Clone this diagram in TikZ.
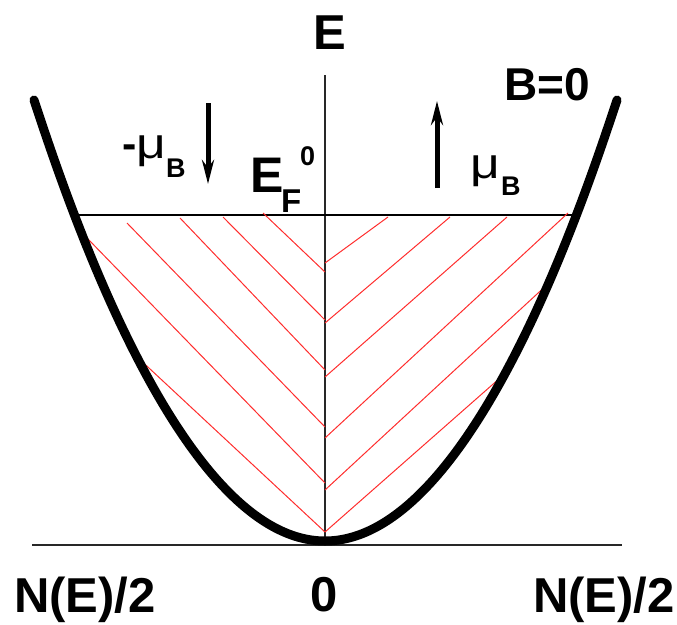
\documentclass[tikz,border=0pt]{standalone}
\usepackage{fontspec}
\setmainfont{Liberation Sans}
\usetikzlibrary{arrows.meta}
\definecolor{HatchRed}{RGB}{255,45,45}
\definecolor{AxisGray}{RGB}{40,40,40}

\begin{document}
\begin{tikzpicture}[x=1pt,y=-1pt,
        axis/.style={draw=AxisGray,line width=1.6pt},
        fermi/.style={draw=black,line width=2.4pt},
        band/.style={draw=black,line width=9pt,line cap=round},
        hatch/.style={draw=HatchRed,line width=1pt},
        spin/.style={-{Stealth[length=24pt,width=12pt]},line width=5pt},
        big/.style={inner sep=0pt,font=\bfseries\fontsize{49}{49}\selectfont},
        small/.style={inner sep=0pt,font=\bfseries\fontsize{27}{27}\selectfont},
        greek/.style={inner sep=0pt,font=\fontsize{43}{43}\selectfont}
      ]
        \useasboundingbox (0,0) rectangle (677,624);
        % axes
        \coordinate (etop) at (325,75);
        \coordinate (orig) at (325,545);
        \coordinate (nl) at (32,545);
        \coordinate (nr) at (622,545);
        \draw[axis] (etop) -- (orig);
        \draw[axis] (nl) -- (nr);
        % Fermi level
        \coordinate (efl) at (76,215);
        \coordinate (efr) at (580,215);
        \draw[fermi] (efl) -- (efr);
        % hatching, spin down (left) and spin up (right)
        \foreach \sx/\sy/\ey in {263/213/272, 223/217/320, 180/218/370,
                                 127/223/427, 87/238/483, 135/355/532}
          \draw[hatch] (\sx,\sy) -- (325,\ey);
        \foreach \sy/\ex/\ey in {263/388/217, 323/450/217, 377/507/217,
                                 438/568/213, 490/550/282, 532/500/378}
          \draw[hatch] (325,\sy) -- (\ex,\ey);
        % band
        \coordinate (ltop) at (34,100);
        \coordinate (rtop) at (617,100);
        \coordinate (vtx) at (325,541);
        \draw[band] (ltop) parabola bend (vtx) (rtop);
        % spin arrows
        \coordinate (dntail) at (208,103);
        \coordinate (dntip) at (208,184);
        \coordinate (uptail) at (437,188);
        \coordinate (uptip) at (437,101);
        \draw[spin] (dntail) -- (dntip);
        \draw[spin] (uptail) -- (uptip);
        % labels
        \node[big,anchor=base] (elab) at (330,49) {E};
        \node[big,font=\bfseries\fontsize{46}{46}\selectfont,anchor=base west] (bzero) at (504,100) {B=0};
        \node[big,anchor=base west] (nleft) at (14,612) {N(E)/2};
        \node[big,anchor=base] (zero) at (324,611) {0};
        \node[big,anchor=base east] (nright) at (675,612) {N(E)/2};
        \node[big,font=\bfseries\fontsize{50}{50}\selectfont,anchor=base west] (ef) at (250,192) {E};
        \node[small,font=\bfseries\fontsize{33}{33}\selectfont,anchor=base west] (efsub) at (281,212) {F};
        \node[small,anchor=base west] (efsup) at (300,165) {0};
        \node[greek,anchor=base west] (mudn) at (122,158) {\textbf{-}\scalebox{1.2}[1]{μ}};
        \node[small,anchor=base west] (bdn) at (166,177) {B};
        \node[greek,anchor=base west] (muup) at (470,178) {\scalebox{1.2}[1]{μ}};
        \node[small,anchor=base west] (bup) at (501,195) {B};
      \end{tikzpicture}
\end{document}
